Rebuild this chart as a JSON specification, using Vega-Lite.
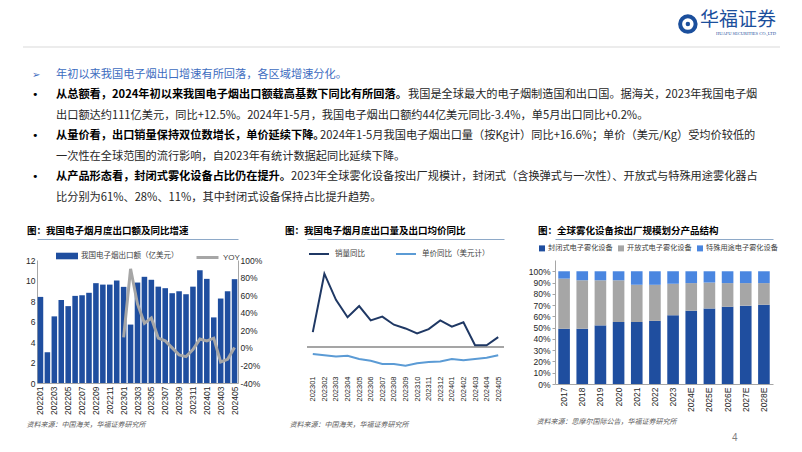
{
  "$schema": "https://vega.github.io/schema/vega-lite/v6.json",
  "background": "white",
  "padding": {"left": 22, "top": 8, "right": 0, "bottom": 0},
  "datasets": {
    "body": [
      {"line": 1, "marker": "➢", "body": "年初以来我国电子烟出口增速有所回落，各区域增速分化。"},
      {"line": 2, "marker": "•", "lead": "从总额看，2024年初以来我国电子烟出口额载高基数下同比有所回落。", "body": "我国是全球最大的电子烟制造国和出口国。据海关，2023年我国电子烟"},
      {"line": 3, "body": "出口额达约111亿美元，同比+12.5%。2024年1-5月，我国电子烟出口额约44亿美元同比-3.4%，单5月出口同比+0.2%。"},
      {"line": 4, "marker": "•", "lead": "从量价看，出口销量保持双位数增长，单价延续下降。", "body": "2024年1-5月我国电子烟出口量（按Kg计）同比+16.6%；单价（美元/Kg）受均价较低的"},
      {"line": 5, "body": "一次性在全球范围的流行影响，自2023年有统计数据起同比延续下降。"},
      {"line": 6, "marker": "•", "lead": "从产品形态看，封闭式雾化设备占比仍在提升。", "body": "2023年全球雾化设备按出厂规模计，封闭式（含换弹式与一次性）、开放式与特殊用途雾化器占"},
      {"line": 7, "body": "比分别为61%、28%、11%，其中封闭式设备保持占比提升趋势。"}
    ],
    "c1": [
      {"month": "202201", "amount": 8.4},
      {"month": "202202", "amount": 3.0},
      {"month": "202203", "amount": 6.5},
      {"month": "202204", "amount": 8.1},
      {"month": "202205", "amount": 7.5},
      {"month": "202206", "amount": 8.5},
      {"month": "202207", "amount": 8.56},
      {"month": "202208", "amount": 8.8},
      {"month": "202209", "amount": 9.74},
      {"month": "202210", "amount": 9.6},
      {"month": "202211", "amount": 9.6},
      {"month": "202212", "amount": 10.0},
      {"month": "202301", "amount": 9.38, "yoy": 12},
      {"month": "202302", "amount": 5.7, "yoy": 90},
      {"month": "202303", "amount": 9.8, "yoy": 50},
      {"month": "202304", "amount": 10.36, "yoy": 28},
      {"month": "202305", "amount": 10.07, "yoy": 34},
      {"month": "202306", "amount": 9.4, "yoy": 11},
      {"month": "202307", "amount": 9.25, "yoy": 8},
      {"month": "202308", "amount": 8.76, "yoy": 0},
      {"month": "202309", "amount": 8.95, "yoy": -8},
      {"month": "202310", "amount": 8.66, "yoy": -10},
      {"month": "202311", "amount": 9.4, "yoy": -2},
      {"month": "202312", "amount": 11.0, "yoy": 10},
      {"month": "202401", "amount": 10.16, "yoy": 8},
      {"month": "202402", "amount": 6.4, "yoy": 11},
      {"month": "202403", "amount": 8.24, "yoy": -16},
      {"month": "202404", "amount": 8.95, "yoy": -13},
      {"month": "202405", "amount": 10.13, "yoy": 0.5}
    ],
    "c2": [
      {"month": "202301", "series": "销量同比", "value": 24},
      {"month": "202302", "series": "销量同比", "value": 118},
      {"month": "202303", "series": "销量同比", "value": 76},
      {"month": "202304", "series": "销量同比", "value": 48},
      {"month": "202305", "series": "销量同比", "value": 66},
      {"month": "202306", "series": "销量同比", "value": 43},
      {"month": "202307", "series": "销量同比", "value": 49},
      {"month": "202308", "series": "销量同比", "value": 36},
      {"month": "202309", "series": "销量同比", "value": 30},
      {"month": "202310", "series": "销量同比", "value": 22},
      {"month": "202311", "series": "销量同比", "value": 29},
      {"month": "202312", "series": "销量同比", "value": 43},
      {"month": "202401", "series": "销量同比", "value": 33},
      {"month": "202402", "series": "销量同比", "value": 40},
      {"month": "202403", "series": "销量同比", "value": 3},
      {"month": "202404", "series": "销量同比", "value": 3},
      {"month": "202405", "series": "销量同比", "value": 16},
      {"month": "202301", "series": "单价同比（美元计）", "value": -11},
      {"month": "202302", "series": "单价同比（美元计）", "value": -13},
      {"month": "202303", "series": "单价同比（美元计）", "value": -15},
      {"month": "202304", "series": "单价同比（美元计）", "value": -14},
      {"month": "202305", "series": "单价同比（美元计）", "value": -19},
      {"month": "202306", "series": "单价同比（美元计）", "value": -22},
      {"month": "202307", "series": "单价同比（美元计）", "value": -27},
      {"month": "202308", "series": "单价同比（美元计）", "value": -27},
      {"month": "202309", "series": "单价同比（美元计）", "value": -30},
      {"month": "202310", "series": "单价同比（美元计）", "value": -26},
      {"month": "202311", "series": "单价同比（美元计）", "value": -24},
      {"month": "202312", "series": "单价同比（美元计）", "value": -23},
      {"month": "202401", "series": "单价同比（美元计）", "value": -19},
      {"month": "202402", "series": "单价同比（美元计）", "value": -21},
      {"month": "202403", "series": "单价同比（美元计）", "value": -19},
      {"month": "202404", "series": "单价同比（美元计）", "value": -17},
      {"month": "202405", "series": "单价同比（美元计）", "value": -13}
    ],
    "c3": [
      {"year": "2017", "type": "封闭式电子雾化设备", "share": 49},
      {"year": "2017", "type": "开放式电子雾化设备", "share": 44.5},
      {"year": "2017", "type": "特殊用途电子雾化设备", "share": 6.5},
      {"year": "2018", "type": "封闭式电子雾化设备", "share": 49},
      {"year": "2018", "type": "开放式电子雾化设备", "share": 43},
      {"year": "2018", "type": "特殊用途电子雾化设备", "share": 8},
      {"year": "2019", "type": "封闭式电子雾化设备", "share": 52},
      {"year": "2019", "type": "开放式电子雾化设备", "share": 40},
      {"year": "2019", "type": "特殊用途电子雾化设备", "share": 8},
      {"year": "2020", "type": "封闭式电子雾化设备", "share": 55},
      {"year": "2020", "type": "开放式电子雾化设备", "share": 37},
      {"year": "2020", "type": "特殊用途电子雾化设备", "share": 8},
      {"year": "2021", "type": "封闭式电子雾化设备", "share": 55},
      {"year": "2021", "type": "开放式电子雾化设备", "share": 33},
      {"year": "2021", "type": "特殊用途电子雾化设备", "share": 12},
      {"year": "2022", "type": "封闭式电子雾化设备", "share": 56},
      {"year": "2022", "type": "开放式电子雾化设备", "share": 32},
      {"year": "2022", "type": "特殊用途电子雾化设备", "share": 12},
      {"year": "2023", "type": "封闭式电子雾化设备", "share": 61},
      {"year": "2023", "type": "开放式电子雾化设备", "share": 28},
      {"year": "2023", "type": "特殊用途电子雾化设备", "share": 11},
      {"year": "2024E", "type": "封闭式电子雾化设备", "share": 65},
      {"year": "2024E", "type": "开放式电子雾化设备", "share": 24.5},
      {"year": "2024E", "type": "特殊用途电子雾化设备", "share": 10.5},
      {"year": "2025E", "type": "封闭式电子雾化设备", "share": 67},
      {"year": "2025E", "type": "开放式电子雾化设备", "share": 23},
      {"year": "2025E", "type": "特殊用途电子雾化设备", "share": 10},
      {"year": "2026E", "type": "封闭式电子雾化设备", "share": 68.5},
      {"year": "2026E", "type": "开放式电子雾化设备", "share": 21},
      {"year": "2026E", "type": "特殊用途电子雾化设备", "share": 10.5},
      {"year": "2027E", "type": "封闭式电子雾化设备", "share": 69.5},
      {"year": "2027E", "type": "开放式电子雾化设备", "share": 20},
      {"year": "2027E", "type": "特殊用途电子雾化设备", "share": 10.5},
      {"year": "2028E", "type": "封闭式电子雾化设备", "share": 70.3},
      {"year": "2028E", "type": "开放式电子雾化设备", "share": 19.2},
      {"year": "2028E", "type": "特殊用途电子雾化设备", "share": 10.5}
    ]
  },
  "title": {"text": "4", "orient": "bottom", "anchor": "end", "dx": -43, "offset": 6, "fontSize": 10, "color": "#7f7f7f", "fontWeight": "normal", "font": "Liberation Sans"},
  "spacing": 17,
  "resolve": {"scale": {"color": "independent", "fill": "independent", "stroke": "independent"}, "legend": {"color": "independent", "fill": "independent", "stroke": "independent"}},
  "vconcat": [
    {
      "width": 743,
      "height": 161,
      "title": {"text": "华福证券", "subtitle": "HUAFU SECURITIES CO.,LTD", "anchor": "end", "frame": "group", "orient": "top", "offset": -27, "dx": -4, "fontSize": 19, "color": "#1b4f9c", "font": "Noto Sans CJK SC", "fontWeight": "normal", "subtitleFontSize": 4.5, "subtitleColor": "#1b4f9c", "subtitleFont": "Liberation Serif", "subtitlePadding": 1},
      "data": {"name": "body"},
      "encoding": {
        "x": {"datum": 0, "type": "quantitative", "scale": {"domain": [0, 1], "nice": false, "zero": false}, "axis": null},
        "y": {"field": "line", "type": "quantitative", "scale": {"domain": [-0.37, 7.5], "reverse": true, "zero": false, "nice": false}, "axis": null}
      },
      "layer": [
        {"transform": [{"filter": "datum.line == 1"}], "mark": {"type": "rule", "color": "#d9d9d9", "strokeWidth": 1}, "encoding": {"x": {"datum": -0.01884, "type": "quantitative"}, "x2": {"datum": 1}, "y": {"datum": -0.37, "type": "quantitative"}}},
        {"transform": [{"filter": "datum.line == 1"}], "mark": {"type": "text", "align": "left", "baseline": "middle", "dx": -5, "fontSize": 10, "color": "#3d6cc0", "font": "DejaVu Sans"}, "encoding": {"text": {"field": "marker"}}},
        {"transform": [{"filter": "datum.line != 1 && datum.marker"}], "mark": {"type": "text", "align": "left", "baseline": "middle", "dx": -5, "fontSize": 11, "color": "#000000", "font": "DejaVu Sans"}, "encoding": {"text": {"field": "marker"}}},
        {"transform": [{"filter": "datum.line == 1"}], "mark": {"type": "text", "align": "left", "baseline": "middle", "dx": 19, "fontSize": 11.2, "color": "#3d6cc0", "font": "Noto Sans CJK SC"}, "encoding": {"text": {"field": "body"}}},
        {"transform": [{"filter": "datum.lead"}], "mark": {"type": "text", "align": "left", "baseline": "middle", "dx": 19, "fontSize": 11.2, "fontWeight": "bold", "color": "#000000", "font": "Noto Sans CJK SC"}, "encoding": {"text": {"field": "lead"}}},
        {"transform": [{"filter": "!datum.lead && datum.line != 1"}], "mark": {"type": "text", "align": "left", "baseline": "middle", "dx": 19, "fontSize": 11.2, "color": "#262626", "font": "Noto Sans CJK SC"}, "encoding": {"text": {"field": "body"}}},
        {"transform": [{"filter": "datum.line == 2"}], "mark": {"type": "text", "align": "left", "baseline": "middle", "dx": 371, "fontSize": 11.2, "color": "#262626", "font": "Noto Sans CJK SC"}, "encoding": {"text": {"field": "body"}}},
        {"transform": [{"filter": "datum.line == 4"}], "mark": {"type": "text", "align": "left", "baseline": "middle", "dx": 283, "fontSize": 11.2, "color": "#262626", "font": "Noto Sans CJK SC"}, "encoding": {"text": {"field": "body"}}},
        {"transform": [{"filter": "datum.line == 6"}], "mark": {"type": "text", "align": "left", "baseline": "middle", "dx": 254, "fontSize": 11.2, "color": "#262626", "font": "Noto Sans CJK SC"}, "encoding": {"text": {"field": "body"}}},
        {"transform": [{"filter": "datum.line == 1"}], "mark": {"type": "point", "shape": "circle", "filled": false, "strokeWidth": 4, "size": 240, "color": "#1b4f9c", "opacity": 1}, "encoding": {"x": {"datum": 0.876, "type": "quantitative"}, "y": {"datum": -1.49, "type": "quantitative"}}},
        {"transform": [{"filter": "datum.line == 1"}], "mark": {"type": "point", "shape": "circle", "filled": true, "size": 20, "color": "#1b4f9c", "opacity": 1}, "encoding": {"x": {"datum": 0.876, "type": "quantitative"}, "y": {"datum": -1.49, "type": "quantitative"}}}
      ]
    },
    {
      "spacing": 23,
      "resolve": {"scale": {"color": "independent", "fill": "independent", "stroke": "independent"}, "legend": {"color": "independent", "fill": "independent", "stroke": "independent"}},
      "hconcat": [
        {
          "width": 201,
          "height": 123,
          "data": {"name": "c1"},
          "title": {"text": "图：我国电子烟月度出口额及同比增速", "anchor": "start", "frame": "group", "dx": -10, "offset": 4},
          "encoding": {
            "x": {"field": "month", "type": "ordinal", "scale": {"paddingInner": 0.2, "paddingOuter": 0.1},
              "axis": {"orient": "bottom", "values": ["202201","202203","202205","202207","202209","202211","202301","202303","202305","202307","202309","202311","202401","202403","202405"], "labelAngle": -90, "labelFontSize": 8.5, "labelPadding": 3, "ticks": false, "domainColor": "#a6a6a6", "title": "资料来源：中国海关，华福证券研究所", "titleX": -11, "titleAlign": "left", "titlePadding": 6}}
          },
          "layer": [
            {"mark": {"type": "bar"},
             "encoding": {
               "y": {"field": "amount", "type": "quantitative", "scale": {"domain": [0, 12], "nice": false}, "axis": {"orient": "left", "values": [0,2,4,6,8,10,12], "grid": false, "ticks": false, "domainColor": "#a6a6a6", "labelFontSize": 8.5, "labelOverlap": false, "title": null}},
               "fill": {"datum": "我国电子烟出口额（亿美元）", "scale": {"range": ["#1f4e9f"]}, "legend": {"orient": "none", "legendX": 19, "legendY": -15, "title": null, "symbolType": "M-1,-0.3H1V0.3H-1Z", "symbolSize": 484, "symbolStrokeWidth": 0, "labelFontSize": 7.5, "labelColor": "#404040", "labelFont": "Noto Sans CJK SC", "labelOffset": 3}}
             }},
            {"mark": {"type": "line", "strokeWidth": 3},
             "encoding": {
               "x": {"field": "month", "type": "ordinal", "axis": {"orient": "top", "labels": false, "ticks": false, "grid": false, "title": null, "domain": true, "domainColor": "#8ea9c8", "offset": 21}},
               "y": {"field": "yoy", "type": "quantitative", "scale": {"domain": [-40, 100], "nice": false}, "axis": {"orient": "right", "values": [-40,-20,0,20,40,60,80,100], "labelExpr": "datum.value + '%'", "grid": false, "ticks": false, "domainColor": "#a6a6a6", "labelFontSize": 8.5, "labelOverlap": false, "title": null}},
               "stroke": {"datum": "YOY", "scale": {"range": ["#a6a6a6"]}, "legend": {"orient": "none", "legendX": 158, "legendY": -15, "title": null, "symbolType": "stroke", "symbolSize": 484, "symbolStrokeWidth": 3, "labelFontSize": 8, "labelColor": "#404040", "labelFont": "Liberation Sans", "labelOffset": 3}}
             }}
          ],
          "resolve": {"scale": {"y": "independent"}, "axis": {"x": "independent"}}
        },
        {
          "width": 197,
          "height": 112,
          "data": {"name": "c2"},
          "title": {"text": "图：我国电子烟月度出口量及出口均价同比", "anchor": "start", "frame": "group", "dx": -22, "offset": 4},
          "layer": [
            {"mark": {"type": "rule", "color": "#a6a6a6", "strokeWidth": 1},
             "encoding": {"y": {"datum": 0, "type": "quantitative", "axis": null}}},
            {"mark": {"type": "line", "strokeWidth": 2},
             "encoding": {
               "x": {"field": "month", "type": "ordinal", "scale": {"type": "point", "padding": 0.5},
                 "axis": {"orient": "bottom", "labelAngle": -90, "labelFontSize": 7.5, "labelPadding": 4, "ticks": false, "domain": false, "title": "资料来源：中国海关，华福证券研究所", "titleX": -18, "titleAlign": "left", "titlePadding": 19}},
               "y": {"field": "value", "type": "quantitative", "scale": {"domain": [-40, 140], "nice": false}, "axis": {"orient": "left", "values": [-40,-20,0,20,40,60,80,100,120,140], "labelExpr": "datum.value + '%'", "labelOverlap": false, "grid": false, "ticks": true, "tickSize": 3, "tickColor": "#a6a6a6", "domainColor": "#a6a6a6", "labelFontSize": 8.5, "title": null}},
               "stroke": {"field": "series", "type": "nominal", "scale": {"domain": ["销量同比", "单价同比（美元计）"], "range": ["#1f3864", "#5b9bd5"]}, "legend": {"orient": "none", "direction": "horizontal", "legendX": 1, "legendY": -17, "title": null, "symbolType": "stroke", "symbolSize": 400, "symbolStrokeWidth": 2, "labelFontSize": 7.5, "labelColor": "#404040", "labelFont": "Noto Sans CJK SC", "labelOffset": 5, "columnPadding": 27}}
             }},
            {"mark": {"type": "point", "opacity": 0},
             "encoding": {
               "x": {"field": "month", "type": "ordinal", "axis": {"orient": "top", "labels": false, "ticks": false, "grid": false, "title": null, "domain": true, "domainColor": "#8ea9c8", "offset": 21}},
               "y": {"field": "value", "type": "quantitative", "axis": null}
             }}
          ],
          "resolve": {"axis": {"x": "independent"}}
        },
        {
          "width": 218,
          "height": 124,
          "data": {"name": "c3"},
          "title": {"text": "图：全球雾化设备按出厂规模划分产品结构", "anchor": "start", "frame": "group", "dx": -17, "offset": 4},
          "layer": [
            {"mark": {"type": "bar"},
             "encoding": {
               "x": {"field": "year", "type": "ordinal", "scale": {"paddingInner": 0.36, "paddingOuter": 0.18},
                 "axis": {"orient": "bottom", "labelAngle": -90, "labelFontSize": 8.5, "labelPadding": 3, "ticks": false, "domainColor": "#a6a6a6", "title": "资料来源：思摩尔国际公告，华福证券研究所", "titleX": -19, "titleAlign": "left", "titlePadding": 6}},
               "y": {"field": "share", "type": "quantitative", "stack": "normalize", "scale": {"domain": [0, 1.1], "nice": false}, "axis": {"orient": "left", "values": [0,0.1,0.2,0.3,0.4,0.5,0.6,0.7,0.8,0.9,1], "format": ".0%", "labelOverlap": false, "grid": false, "ticks": true, "tickSize": 3, "tickColor": "#a6a6a6", "domainColor": "#a6a6a6", "labelFontSize": 8.5, "title": null}},
               "order": {"field": "type", "type": "nominal", "sort": "ascending"},
               "color": {"field": "type", "type": "nominal", "scale": {"domain": ["封闭式电子雾化设备", "开放式电子雾化设备", "特殊用途电子雾化设备"], "range": ["#1f4e9f", "#a6a6a6", "#4a86e0"]}, "legend": {"orient": "none", "direction": "horizontal", "legendX": -17, "legendY": -16, "title": null, "symbolType": "square", "symbolSize": 36, "labelFontSize": 7.2, "labelColor": "#404040", "labelFont": "Noto Sans CJK SC", "labelOffset": 2, "columnPadding": 4}}
             }},
            {"mark": {"type": "point", "opacity": 0},
             "encoding": {
               "x": {"field": "year", "type": "ordinal", "axis": {"orient": "top", "labels": false, "ticks": false, "grid": false, "title": null, "domain": true, "domainColor": "#8ea9c8", "offset": 21}}
             }}
          ],
          "resolve": {"axis": {"x": "independent"}}
        }
      ]
    }
  ],
  "config": {
    "view": {"stroke": null},
    "font": "Noto Sans CJK SC",
    "title": {"font": "Noto Sans CJK SC", "fontSize": 9.5, "fontWeight": "bold", "color": "#000000"},
    "axis": {"labelFont": "Liberation Sans", "labelColor": "#262626", "titleFont": "Noto Sans CJK SC", "titleFontSize": 7, "titleFontStyle": "italic", "titleFontWeight": "normal", "titleColor": "#595959"}
  }
}
